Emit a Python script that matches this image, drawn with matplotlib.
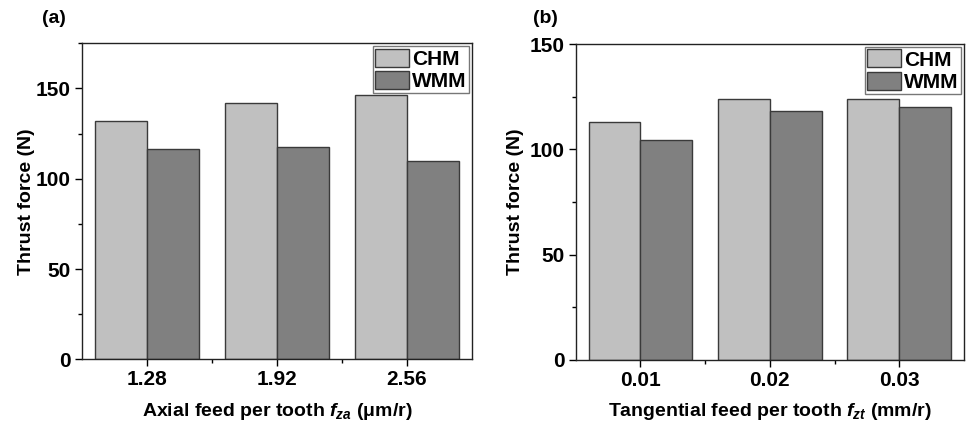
import matplotlib.pyplot as plt
import numpy as np
from matplotlib.ticker import MultipleLocator, FixedLocator

plt.rcParams["font.family"] = ["Liberation Sans", "DejaVu Sans"]
plt.rcParams["font.weight"] = "bold"
plt.rcParams["mathtext.fontset"] = "custom"
plt.rcParams["mathtext.rm"] = "Liberation Sans:bold"
plt.rcParams["mathtext.it"] = "Liberation Sans:italic:bold"
plt.rcParams["mathtext.bf"] = "Liberation Sans:bold"

# Panel (a): axial feed per tooth
axial_labels = ["1.28", "1.92", "2.56"]
axial_chm = [132, 141.8, 146.3]
axial_wmm = [116.3, 117.4, 109.8]

# Panel (b): tangential feed per tooth
tang_labels = ["0.01", "0.02", "0.03"]
tang_chm = [113.2, 124.0, 124.0]
tang_wmm = [104.4, 118.4, 120.0]

CHM_COLOR = "#c0c0c0"
WMM_COLOR = "#808080"
EDGE_COLOR = "#3a3a3a"


def draw_panel(ax, labels, chm, wmm, ymax, xlabel, tag, tag_x, ypad):
    x = np.arange(1, len(labels) + 1)
    width = 0.4
    ax.bar(x - width / 2, chm, width, color=CHM_COLOR, edgecolor=EDGE_COLOR,
           linewidth=1.0, label="CHM")
    ax.bar(x + width / 2, wmm, width, color=WMM_COLOR, edgecolor=EDGE_COLOR,
           linewidth=1.0, label="WMM")

    ax.set_xlim(0.5, len(labels) + 0.5)
    ax.set_ylim(0, ymax)
    ax.set_xticks(x)
    ax.set_xticklabels(labels)
    ax.xaxis.set_minor_locator(FixedLocator(x[:-1] + 0.5))
    ax.yaxis.set_major_locator(MultipleLocator(50))
    ax.yaxis.set_minor_locator(MultipleLocator(25))

    ax.tick_params(axis="both", which="major", direction="out", length=5,
                   width=1.0, labelsize=15, pad=3)
    ax.tick_params(axis="both", which="minor", direction="out", length=3,
                   width=1.0)
    for side in ax.spines.values():
        side.set_linewidth(1.0)
        side.set_color("#222222")

    ax.set_ylabel("Thrust force (N)", fontsize=14, fontweight="bold", labelpad=ypad)
    ax.set_xlabel(xlabel, fontsize=14, fontweight="bold", labelpad=8)

    leg = ax.legend(loc="upper right", frameon=True, fancybox=False,
                    borderpad=0.1, borderaxespad=0.15, handlelength=1.65,
                    handleheight=0.95, handletextpad=0.15, labelspacing=0.12,
                    prop={"weight": "bold", "size": 15})
    leg.get_frame().set_edgecolor("#555555")
    leg.get_frame().set_linewidth(1.0)

    ax.text(tag_x, 1.08, tag, transform=ax.transAxes, fontsize=14,
            fontweight="bold", ha="left", va="center")


fig = plt.figure(figsize=(9.69, 4.25), dpi=100)
ax_a = fig.add_axes([0.0846, 0.1546, 0.4025, 0.7434])
ax_b = fig.add_axes([0.5941, 0.153, 0.4007, 0.743])

draw_panel(ax_a, axial_labels, axial_chm, axial_wmm, 175,
           r"Axial feed per tooth $f_{za}$ (μm/r)", "(a)", -0.102, 0.5)
draw_panel(ax_b, tang_labels, tang_chm, tang_wmm, 150,
           r"Tangential feed per tooth $f_{zt}$ (mm/r)", "(b)", -0.11, 4)

fig.savefig("out.png", dpi=100)
